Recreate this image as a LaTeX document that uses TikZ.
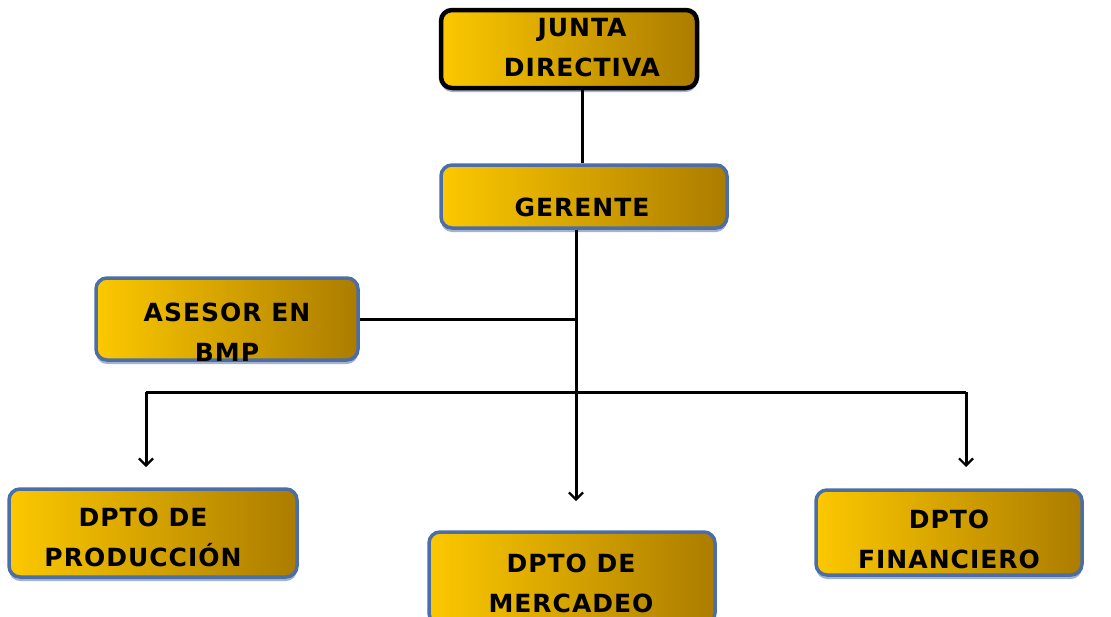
\documentclass[tikz,border=0pt]{standalone}
\usepackage{fontspec}
\setmainfont{DejaVu Sans}[LetterSpace=4]
\usetikzlibrary{arrows.meta,shadows}
\definecolor{gold}{RGB}{252,200,0}
\definecolor{darkgold}{RGB}{172,124,0}
\definecolor{bblue}{RGB}{74,110,165}
\definecolor{shblue}{RGB}{140,160,195}
\tikzset{
  box/.style={rectangle, rounded corners=11pt, left color=gold, right color=darkgold,
    draw=bblue, line width=3.5pt, inner sep=0pt,
    drop shadow={shadow xshift=0pt, shadow yshift=-4pt, fill=shblue, opacity=0.8}},
  blackbox/.style={box, draw=black, line width=4.5pt,
    drop shadow={shadow xshift=1pt, shadow yshift=-2pt, fill=gray, opacity=0.5}},
  lbl/.style={align=center, font=\fontsize{25}{40}\selectfont\bfseries, inner sep=0pt},
  conn/.style={line width=3pt, black},
  arr/.style={conn, -{Straight Barb[length=7pt,width=14pt,line width=2.2pt]}}
}
\begin{document}
\begin{tikzpicture}[x=1pt,y=-1pt]
\useasboundingbox (0,0) rectangle (1111,616);
% boxes
\node[blackbox, minimum width=256pt, minimum height=78pt] (junta) at (569,49) {};
\node[box, minimum width=286pt, minimum height=63pt] (gerente) at (584,196.5) {};
\node[box, minimum width=262pt, minimum height=82pt] (asesor) at (227,319) {};
\node[box, minimum width=288pt, minimum height=88pt] (prod) at (153,533) {};
\node[box, minimum width=286pt, minimum height=92pt] (merc) at (572,578) {};
\node[box, minimum width=266pt, minimum height=85pt] (fin) at (949,532.5) {};
% texts
\node[lbl] (tjunta) at (582,48) {JUNTA\\DIRECTIVA};
\node[lbl] (tgerente) at (582,207) {GERENTE};
\node[lbl] (tasesor) at (227,332) {ASESOR EN\\BMP};
\node[lbl] (tprod) at (143,537.5) {DPTO DE\\PRODUCCIÓN};
\node[lbl] (tmerc) at (571,583) {DPTO DE\\MERCADEO};
\node[lbl] (tfin) at (949,539) {DPTO\\FINANCIERO};
% connector coordinates
\coordinate (t1) at (582,0);
\coordinate (t2) at (576,0);
\coordinate (bl) at (146,392);
\coordinate (br) at (966,392);
\coordinate (el) at (146,467);
\coordinate (er) at (966,467);
\coordinate (em) at (576,501);
% connectors
\draw[conn] (junta.south -| t1) -- (gerente.north -| t1);
\draw[arr] (gerente.south -| t2) -- (em);
\draw[conn] (asesor.east) -- (asesor.east -| t2);
\draw[conn] (bl) -- (br);
\draw[arr] (bl) -- (el);
\draw[arr] (br) -- (er);
\end{tikzpicture}
\end{document}
